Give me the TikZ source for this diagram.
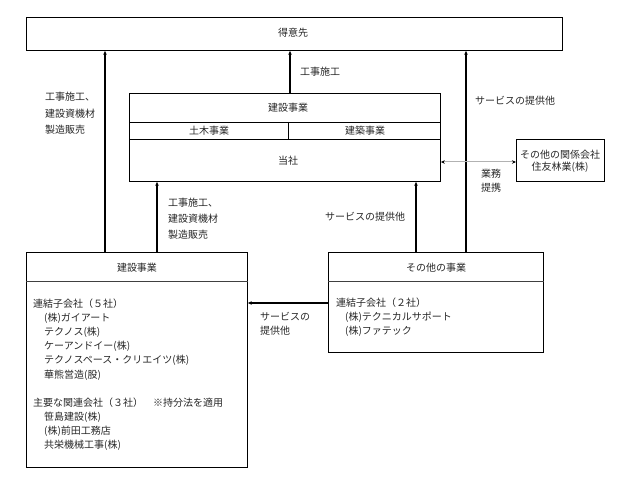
\documentclass[tikz,border=0pt]{standalone}
\usepackage{fontspec}
\setmainfont{Noto Sans CJK JP}
\usetikzlibrary{arrows.meta}
\begin{document}
\begin{tikzpicture}[x=1pt,y=-1pt,
  font=\fontsize{10}{12}\selectfont,
  box/.style={draw, line width=0.9pt, anchor=north west, inner sep=0pt},
  lbl/.style={text=black!85, inner sep=0pt},
  lbll/.style={lbl, anchor=west},
  arr/.style={line width=1.1pt, -{Stealth[length=4pt,width=3.5pt]}},
  dbl/.style={draw=black!30, line width=1pt, {Stealth[length=4pt,width=3.5pt,black]}-{Stealth[length=4pt,width=3.5pt,black]}},
  sep/.style={line width=0.9pt}]
\useasboundingbox (0,0) rectangle (633,481);

% boxes
\node[box, minimum width=536pt, minimum height=33pt] (cust) at (26,17) {};
\node[box, minimum width=311pt, minimum height=88pt] (tosha) at (129,93) {};
\node[box, minimum width=88pt, minimum height=42pt] (rel) at (516,139) {};
\node[box, minimum width=221pt, minimum height=215pt] (kb) at (26,252) {};
\node[box, minimum width=215pt, minimum height=100pt] (sb) at (328,252) {};

% helper coordinates
\coordinate (r1) at (0,122);
\coordinate (r2) at (0,139);
\coordinate (dv) at (288,0);
\coordinate (hl) at (0,281);
\coordinate (ya) at (0,162);
\coordinate (yb) at (0,303);
\coordinate (xa) at (105,0);
\coordinate (xb) at (157,0);
\coordinate (xc) at (290,0);
\coordinate (xd) at (416,0);
\coordinate (xe) at (466,0);

% inner lines
\draw[sep] (tosha.west |- r1) -- (tosha.east |- r1);
\draw[sep] (tosha.west |- r2) -- (tosha.east |- r2);
\draw[sep] (dv |- r1) -- (dv |- r2);
\draw[sep, draw=black!75] (kb.west |- hl) -- (kb.east |- hl);
\draw[sep, draw=black!75] (sb.west |- hl) -- (sb.east |- hl);

% connectors
\draw[arr] (xa |- kb.north) -- (xa |- cust.south);
\draw[arr] (xb |- kb.north) -- (xb |- tosha.south);
\draw[arr] (xc |- tosha.north) -- (xc |- cust.south);
\draw[arr] (xd |- sb.north) -- (xd |- tosha.south);
\draw[arr] (xe |- sb.north) -- (xe |- cust.south);
\draw[arr] (sb.west |- yb) -- (kb.east |- yb);
\draw[dbl] (tosha.east |- ya) -- (rel.west |- ya);

% texts
\node[lbl] (tcust) at (293,33) {得意先};
\node[lbl] (tk1) at (320,72) {工事施工};
\node[lbll] (la1) at (45,97) {工事施工、};
\node[lbll] (la2) at (45,114) {建設資機材};
\node[lbll] (la3) at (45,130) {製造販売};
\node[lbll] (ls1) at (475,101) {サービスの提供他};
\node[lbl] (tken) at (288,108) {建設事業};
\node[lbl] (tdo) at (209,131) {土木事業};
\node[lbl] (tkc) at (365,131) {建築事業};
\node[lbl] (ttosha) at (288,161) {当社};
\node[lbl] (trel1) at (560,155) {その他の関係会社};
\node[lbl] (trel2) at (560,167) {住友林業(株)};
\node[lbl] (tgy1) at (491,174) {業務};
\node[lbl] (tgy2) at (491,188) {提携};
\node[lbll] (lb1) at (168,203) {工事施工、};
\node[lbll] (lb2) at (168,219) {建設資機材};
\node[lbll] (lb3) at (168,235) {製造販売};
\node[lbl] (lsv) at (365,217) {サービスの提供他};
\node[lbll] (lsv1) at (260,317) {サービスの};
\node[lbll] (lsv2) at (260,331) {提供他};
\node[lbl] (tkbh) at (137,268) {建設事業};
\node[lbl] (tsbh) at (436,268) {その他の事業};

% kb contents
\node[lbll] (k1) at (33,304) {連結子会社（５社）};
\node[lbll] (k2) at (44,318) {(株)ガイアート};
\node[lbll] (k3) at (44,332) {テクノス(株)};
\node[lbll] (k4) at (44,346) {ケーアンドイー(株)};
\node[lbll] (k5) at (44,360) {テクノスペース・クリエイツ(株)};
\node[lbll] (k6) at (44,375) {華熊営造(股)};
\node[lbll] (k7) at (33,403) {主要な関連会社（３社）\quad ※持分法を適用};
\node[lbll] (k8) at (44,417) {笹島建設(株)};
\node[lbll] (k9) at (44,431) {(株)前田工務店};
\node[lbll] (k10) at (44,445) {共栄機械工事(株)};

% sb contents
\node[lbll] (s1) at (336,303) {連結子会社（２社）};
\node[lbll] (s2) at (345,317) {(株)テクニカルサポート};
\node[lbll] (s3) at (345,331) {(株)ファテック};
\end{tikzpicture}
\end{document}
